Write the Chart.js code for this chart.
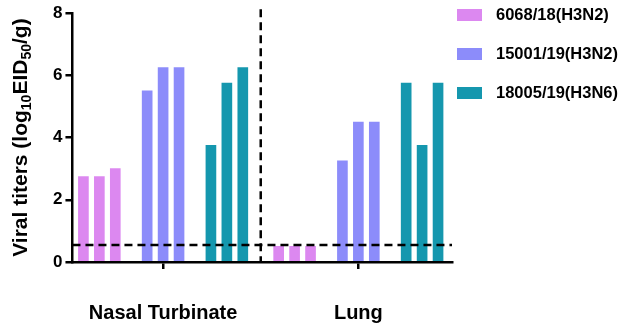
<!DOCTYPE html>
<html>
<head>
<meta charset="utf-8">
<script src="https://cdn.jsdelivr.net/npm/chart.js@4.4.1/dist/chart.umd.min.js"></script>
<style>
  html, body { margin: 0; padding: 0; background: #fff; }
</style>
</head>
<body>
<canvas id="titers" width="624" height="330"></canvas>
<script>
const categories = ['Nasal Turbinate', 'Lung'];
const strains = ['6068/18(H3N2)', '15001/19(H3N2)', '18005/19(H3N6)'];
const nasal6068 = [2.75, 2.75, 3.0];
const lung6068 = [0.5, 0.5, 0.5];
const nasal15001 = [5.5, 6.25, 6.25];
const lung15001 = [3.25, 4.5, 4.5];
const nasal18005 = [3.75, 5.75, 6.25];
const lung18005 = [5.75, 3.75, 5.75];
const yTicks = [0, 2, 4, 6, 8];
const detectionLimit = 0.55;

const nasal = [nasal6068, nasal15001, nasal18005];
const lung = [lung6068, lung15001, lung18005];
const colors = ['#DC88F0', '#8C8CFA', '#1597AE'];
const FONT = "'Liberation Sans', Arial, sans-serif";

// each tissue group: 3 bars, gap, 3 bars, gap, 3 bars around the category tick
const slot = 16 / 196;
function toPoints(cat, strainIdx, vals) {
  return vals.map((v, r) => ({ x: cat + (strainIdx - 1) * 4 * slot + (r - 1) * slot, y: v }));
}

const refLines = {
  id: 'refLines',
  afterDatasetsDraw(chart) {
    const { ctx, chartArea, scales: { x, y } } = chart;
    ctx.save();
    ctx.strokeStyle = '#000';
    ctx.lineWidth = 2.5;
    ctx.setLineDash([8, 5]);
    const yl = y.getPixelForValue(detectionLimit);
    ctx.beginPath();
    ctx.moveTo(chartArea.left, yl);
    ctx.lineTo(chartArea.right, yl);
    ctx.stroke();
    const xm = x.getPixelForValue(1.5);
    ctx.beginPath();
    ctx.moveTo(xm, chartArea.top - 4);
    ctx.lineTo(xm, y.getPixelForValue(0));
    ctx.stroke();
    ctx.restore();
  }
};

// y title with subscripts
const yTitle = {
  id: 'yTitle',
  afterDraw(chart) {
    const { ctx, chartArea } = chart;
    const parts = [['Viral titers (log', false], ['10', true], ['EID', false], ['50', true], ['/g)', false]];
    const big = `bold 21px ${FONT}`, small = `bold 14px ${FONT}`;
    ctx.save();
    ctx.translate(27, (chartArea.top + chartArea.bottom) / 2);
    ctx.rotate(-Math.PI / 2);
    ctx.fillStyle = '#000';
    ctx.textBaseline = 'alphabetic';
    let total = 0;
    parts.forEach(([t, sub]) => { ctx.font = sub ? small : big; total += ctx.measureText(t).width; });
    let px = -total / 2;
    parts.forEach(([t, sub]) => {
      ctx.font = sub ? small : big;
      ctx.fillText(t, px, sub ? 4 : 0);
      px += ctx.measureText(t).width;
    });
    ctx.restore();
  }
};

const legendBoxes = {
  id: 'legendBoxes',
  afterDraw(chart) {
    const { ctx, chartArea } = chart;
    const x0 = chartArea.right + 5;
    ctx.save();
    ctx.font = `bold 16.5px ${FONT}`;
    ctx.textBaseline = 'middle';
    chart.data.datasets.forEach((ds, i) => {
      const yc = 15 + i * 39;
      ctx.fillStyle = ds.backgroundColor;
      ctx.fillRect(x0, yc - 6, 25, 12);
      ctx.fillStyle = '#000';
      ctx.fillText(ds.label, x0 + 39, yc);
    });
    ctx.restore();
  }
};

new Chart('titers', {
  type: 'bar',
  data: {
    datasets: strains.map((name, i) => ({
      label: name,
      data: [...toPoints(1, i, nasal[i]), ...toPoints(2, i, lung[i])],
      backgroundColor: colors[i],
      barThickness: 10,
      grouped: false,
    })),
  },
  options: {
    responsive: false,
    animation: false,
    devicePixelRatio: 1,
    layout: { padding: { left: 50, right: 172, top: 1, bottom: -27 } },
    plugins: { legend: { display: false }, tooltip: { enabled: false } },
    scales: {
      x: {
        type: 'linear',
        min: 1 - 91 / 196,
        max: 1 - 91 / 196 + 381 / 196,
        offset: false,
        afterBuildTicks: s => { s.ticks = categories.map((c, i) => ({ value: i + 1 })); },
        ticks: {
          callback: v => categories[v - 1] || '',
          font: { family: FONT, size: 20, weight: 'bold' },
          color: '#000',
          padding: 32,
          autoSkip: false,
          maxRotation: 0,
        },
        grid: { offset: false, drawOnChartArea: false, tickLength: 7, lineWidth: 2.5, color: '#000' },
        border: { color: '#000', width: 2.5 },
      },
      y: {
        min: 0,
        max: 8,
        afterBuildTicks: s => { s.ticks = yTicks.map(v => ({ value: v })); },
        ticks: {
          font: { family: FONT, size: 17, weight: 'bold' },
          color: '#000',
          padding: 3,
        },
        grid: { drawOnChartArea: false, tickLength: 7, lineWidth: 2.5, color: '#000' },
        border: { color: '#000', width: 2.5 },
      },
    },
  },
  plugins: [refLines, yTitle, legendBoxes],
});
</script>
</body>
</html>
